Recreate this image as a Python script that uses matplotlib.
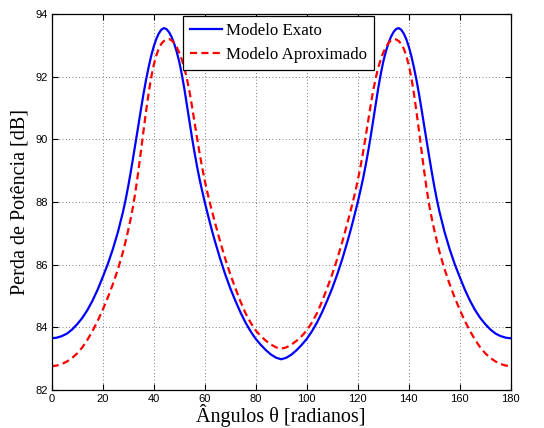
import matplotlib
matplotlib.use("Agg")
import matplotlib.pyplot as plt

# angles (degrees) for 0..90; the curves are symmetric about 90 degrees
half_angles = [0, 2, 4, 6, 8, 10, 12, 14, 16, 18, 20, 22, 24, 26,
               28, 29, 30, 31, 32, 33, 34, 35, 36, 37, 38, 39, 40, 41, 42, 43, 44, 45, 46,
               47, 48, 49, 50, 51, 52, 53, 54, 55, 56, 57, 58, 59, 60, 61, 62, 63, 64,
               66, 68, 70, 72, 74, 76, 78, 80, 82, 84, 86, 88, 90]

blue_half = [83.65, 83.67, 83.72, 83.80, 83.93, 84.10, 84.30, 84.55, 84.85, 85.20, 85.60, 86.02, 86.50, 87.05,
             87.70, 88.08, 88.50, 88.96, 89.45, 89.95, 90.45, 90.96, 91.45, 91.90, 92.30, 92.66, 92.96, 93.20,
             93.38, 93.50, 93.55, 93.52, 93.42,
             93.27, 93.06, 92.80, 92.48, 92.08, 91.62, 91.10, 90.58, 90.06, 89.58, 89.13, 88.72, 88.35, 88.00,
             87.67, 87.35, 87.04, 86.75,
             86.20, 85.70, 85.25, 84.85, 84.48, 84.15, 83.87, 83.63, 83.44, 83.27, 83.13, 83.03, 82.98]
red_half = [82.76, 82.78, 82.83, 82.91, 83.02, 83.17, 83.36, 83.60, 83.88, 84.20, 84.56, 84.95, 85.38, 85.86,
            86.42, 86.75, 87.10, 87.48, 87.90, 88.42, 89.00, 89.63, 90.27, 90.89, 91.47, 91.97, 92.37, 92.67,
            92.90, 93.05, 93.14, 93.19, 93.20,
            93.16, 93.07, 92.94, 92.77, 92.55, 92.28, 91.94, 91.54, 91.06, 90.55, 90.04, 89.55, 89.10, 88.69,
            88.32, 87.98, 87.66, 87.35,
            86.75, 86.20, 85.70, 85.25, 84.83, 84.45, 84.15, 83.90, 83.72, 83.57, 83.45, 83.36, 83.32]

angles = half_angles + [180 - a for a in half_angles[-2::-1]]
modelo_exato = blue_half + blue_half[-2::-1]
modelo_aprox = red_half + red_half[-2::-1]

xticks = [0, 20, 40, 60, 80, 100, 120, 140, 160, 180]
yticks = [82, 84, 86, 88, 90, 92, 94]

fig = plt.figure(figsize=(5.44, 4.28), dpi=100)
ax = fig.add_axes([0.095, 0.0888, 0.844, 0.8785])

ax.plot(angles, modelo_exato, color='#0000ff', lw=1.6, label='Modelo Exato')
ax.plot(angles, modelo_aprox, color='#ff0000', lw=1.6, ls=(0, (3.2, 1.9)), label='Modelo Aproximado')

ax.set_xlim(0, 180)
ax.set_ylim(82, 94)
ax.set_xticks(xticks)
ax.set_yticks(yticks)
ax.tick_params(direction='in', top=True, right=True, labelsize=8, length=4, width=0.8, pad=3)
for lab in ax.get_xticklabels() + ax.get_yticklabels():
    lab.set_family('Liberation Sans')
ax.grid(True, color='#555555', ls=(0, (1, 3)), lw=0.6)
for s in ax.spines.values():
    s.set_linewidth(0.9)

ax.set_xlabel('Ângulos θ [radianos]', family='Liberation Serif', fontsize=14.5, labelpad=0)
ax.set_ylabel('Perda de Potência [dB]', family='Liberation Serif', fontsize=14.5, labelpad=4)

leg = ax.legend(loc='upper center', bbox_to_anchor=(0.494, 0.995), prop={'family': 'Liberation Serif', 'size': 12.2},
                fancybox=False, framealpha=1, edgecolor='black', handlelength=1.9, handletextpad=0.2,
                borderpad=0.4, labelspacing=0.5, borderaxespad=0.0)
leg.get_frame().set_linewidth(0.9)

fig.savefig('out.png', dpi=100)
